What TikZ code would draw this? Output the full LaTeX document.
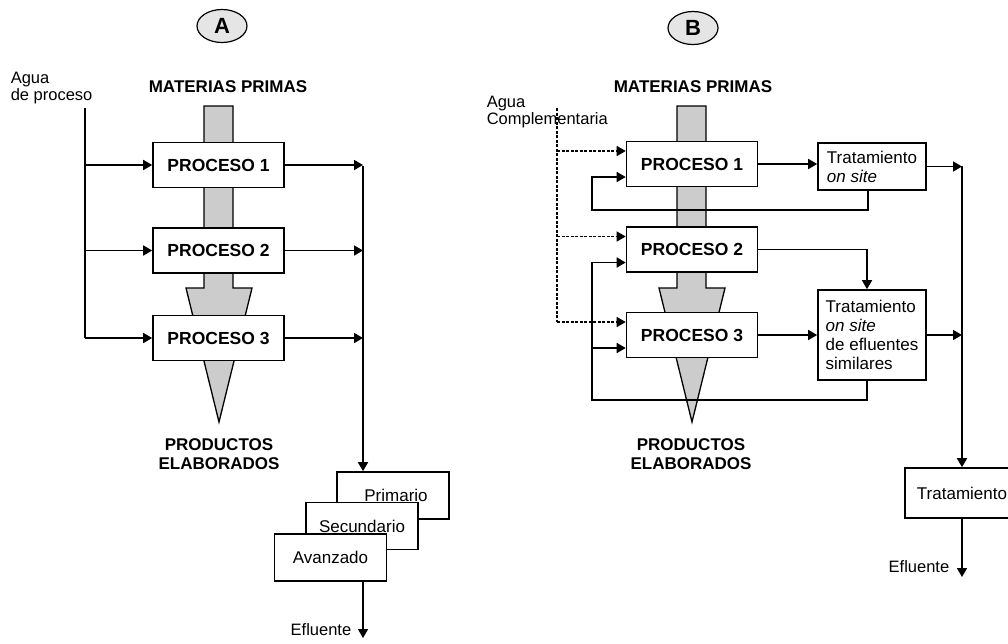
\documentclass[tikz,border=0pt]{standalone}
\usepackage{fontspec}
\setmainfont{Liberation Sans}
\usetikzlibrary{arrows.meta,shapes.geometric}

\begin{document}
\begin{tikzpicture}[x=1pt,y=-1pt,line width=1.6pt,
    proc/.style={rectangle,draw,fill=white,minimum width=131pt,minimum height=45pt,font=\fontsize{17.5}{20}\selectfont\bfseries},
    trat/.style={rectangle,draw,fill=white,align=left,minimum width=108pt,inner ysep=0pt,font=\fontsize{17}{19}\selectfont},
    etapa/.style={rectangle,draw,fill=white,minimum width=112pt,minimum height=47pt,font=\fontsize{17}{19}\selectfont},
    tag/.style={ellipse,draw,line width=1.2pt,fill=gray!20,minimum width=50pt,minimum height=33pt,inner sep=0pt,font=\fontsize{22}{24}\selectfont\bfseries},
    titulo/.style={align=center,inner sep=0pt,font=\fontsize{17}{19}\selectfont\bfseries},
    texto/.style={align=left,inner sep=0pt,font=\fontsize{16.5}{15}\selectfont},
    flujo/.style={-{Triangle[length=9pt,width=10pt]}},
    aguac/.style={line width=1.3pt,dash pattern=on 3pt off 1.5pt},
    flujod/.style={aguac,flujo},
    gris/.style={fill=gray!40,line width=1.3pt}]
\clip (0,0) rectangle (1008,643);

\foreach \dx in {0,473}
  \filldraw[gris,xshift=\dx pt] (204,106) -- (233,106) -- (233,288) -- (252,288) -- (219,422) -- (186,288) -- (204,288) -- cycle;

% A
\node[tag] (tagA) at (222,26) {A};
\node[titulo] (mpA) at (228,87) {MATERIAS PRIMAS};
\node[texto,anchor=west] (aguaA) at (10,88) {Agua\\de proceso};
\node[proc] (P1a) at (218.5,165) {PROCESO 1};
\node[proc] (P2a) at (218.5,250.5) {PROCESO 2};
\node[proc] (P3a) at (218.5,338) {PROCESO 3};
\node[titulo] (prA) at (219,454.5) {PRODUCTOS\\ELABORADOS};
\node[etapa] (prim) at (393,495.5) {\hspace{6pt}Primario};
\node[etapa] (secu) at (362,526) {Secundario};
\node[etapa] (avan) at (330.5,557.5) {Avanzado};
\node[texto,anchor=east] (efA) at (352,630) {Efluente};
\coordinate (wA) at (85,108);
\coordinate (cA) at (363,166);
\coordinate (fA) at (363,638);

\draw (wA) -- (wA |- P3a.west);
\foreach \p in {P1a,P2a,P3a} {
  \draw[flujo] (wA |- \p.west) -- (\p.west);
  \draw[flujo] (\p.east) -- (\p.east -| cA);
}
\draw[flujo] (cA) -- (cA |- prim.north);
\draw[flujo] (cA |- avan.south) -- (fA);

% B
\node[tag] (tagB) at (693,28) {B};
\node[titulo] (mpB) at (693,87) {MATERIAS PRIMAS};
\node[texto,anchor=west] (aguaB) at (486,112) {Agua\\Complementaria};
\node[proc] (P1b) at (692,164) {PROCESO 1};
\node[proc] (P2b) at (692,249.5) {PROCESO 2};
\node[proc] (P3b) at (692,335) {PROCESO 3};
\node[titulo] (prB) at (691,454.5) {PRODUCTOS\\ELABORADOS};
\node[trat,minimum height=47pt] (T1) at (872,166.5) {Tratamiento\\\textit{on site}};
\node[trat,minimum height=90pt] (T2) at (872,335) {Tratamiento\\\textit{on site}\\de efluentes\\similares};
\node[etapa,minimum width=114pt,minimum height=50pt] (TF) at (962,493) {Tratamiento};
\node[texto,anchor=east] (efB) at (950,567) {Efluente};
\coordinate (wB) at (557,108);
\coordinate (cB) at (962,166);
\coordinate (fB) at (962,577);
\coordinate (r1) at (592,210);
\coordinate (r2) at (592,400);
\coordinate (d1) at ([yshift=13pt]P1b.west);
\coordinate (d2) at ([yshift=13pt]P2b.west);
\coordinate (d3) at ([yshift=13pt]P3b.west);
\coordinate (s1) at ([yshift=-13pt]P1b.west);
\coordinate (s2) at ([yshift=-13pt]P2b.west);
\coordinate (s3) at ([yshift=-13pt]P3b.west);

\draw[aguac] (wB) -- (wB |- d3);
\foreach \d in {d1,d2,d3}
  \draw[flujod] (wB |- \d) -- (\d);
\draw[flujo] ([xshift=-4pt]T1.south) |- (r1) |- (s1);
\draw[flujo] ([xshift=-5pt]T2.south) |- (r2) |- (s2);
\draw[flujo] (r2 |- s3) -- (s3);
\draw[flujo] (P1b.east) -- (P1b.east -| T1.west);
\draw[flujo] (P2b.east) -| ([xshift=-5pt]T2.north);
\draw[flujo] (P3b.east) -- (P3b.east -| T2.west);
\draw[flujo] (T1.east) -- (T1.east -| cB);
\draw[flujo] (T2.east) -- (T2.east -| cB);
\draw[flujo] (cB) -- (TF.north);
\draw[flujo] (TF.south) -- (fB);
\end{tikzpicture}
\end{document}
